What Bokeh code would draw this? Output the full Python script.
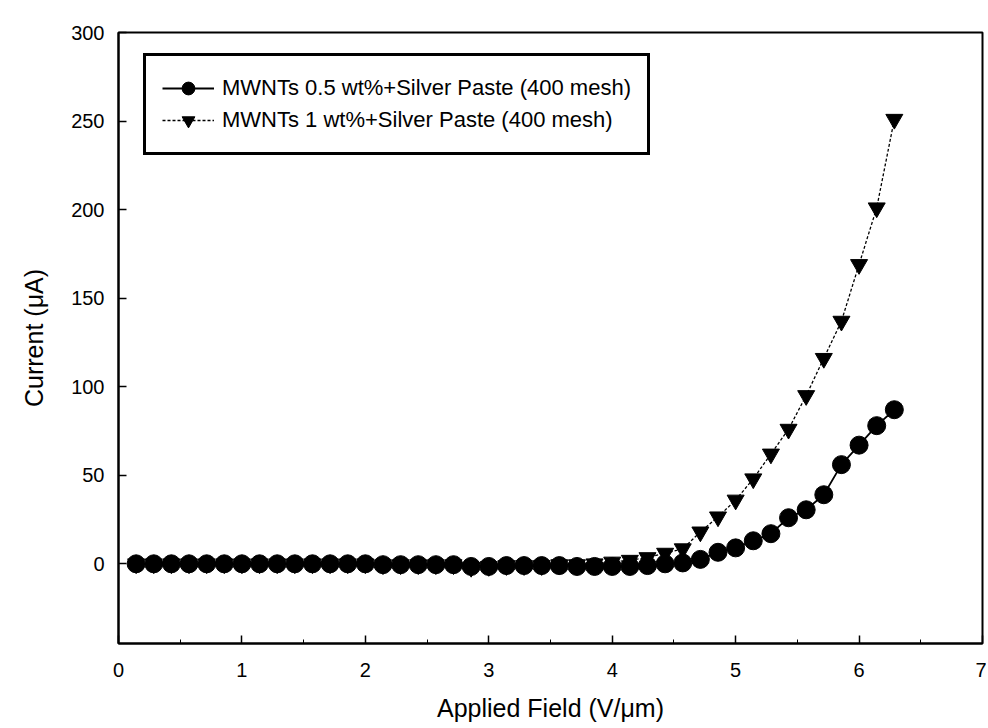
from bokeh.plotting import figure
from bokeh.models import FixedTicker, Legend, LegendItem, Range1d
from bokeh.embed import file_html
from bokeh.resources import INLINE

# Applied field steps (V/um): k/7 for k = 1..44
step_index = list(range(1, 45))
field = [k / 7 for k in step_index]

current_05 = [0, 0, 0, 0, 0, 0, 0, 0, 0, 0,
              0, 0, 0, 0, -0.5, -0.5, -0.5, -0.5, -0.5, -1.5,
              -1.5, -1, -1, -1, -1, -1.5, -1.5, -1.5, -1.5, -1,
              0, 0.5, 2.5, 6.5, 9, 13, 17, 26, 30.5, 39,
              56, 67, 78, 87]

current_1 = [0, 0, 0, 0, 0, 0, 0, 0, 0, 0,
             0, 0, 0, 0, -0.5, -0.5, -0.5, -0.5, -0.5, -2,
             -1.5, -1, -1, -1, -0.5, -0.5, 0, 1, 2, 3.5,
             6, 8.5, 18, 26.5, 36, 48, 62, 76, 95, 116,
             137, 169, 201, 251]

label_05 = "MWNTs 0.5 wt%+Silver Paste (400 mesh)"
label_1 = "MWNTs 1 wt%+Silver Paste (400 mesh)"

x_ticks = [0, 1, 2, 3, 4, 5, 6, 7]
y_ticks = [0, 50, 100, 150, 200, 250, 300]

FONT = "Liberation Sans"

p = figure(frame_width=864, frame_height=611, output_backend="svg", toolbar_location=None,
           x_range=Range1d(0, 7), y_range=Range1d(-45, 300),
           min_border_left=118, min_border_right=4, min_border_top=32, min_border_bottom=84,
           background_fill_color="white", border_fill_color="white")
p.grid.visible = False
p.outline_line_color = "black"
p.outline_line_width = 2
p.outline_line_alpha = 1

for ax in (p.xaxis[0], p.yaxis[0]):
    ax.axis_line_width = 2
    ax.major_tick_in = 8
    ax.major_tick_out = 0
    ax.minor_tick_in = 4
    ax.minor_tick_out = 0
    ax.major_tick_line_width = 1.5
    ax.major_label_text_font = FONT
    ax.major_label_text_font_size = "20px"
    ax.major_label_text_color = "black"
    ax.axis_label_text_font = FONT
    ax.axis_label_text_font_size = "25px"
    ax.axis_label_text_font_style = "normal"
    ax.axis_label_text_color = "black"

p.xaxis[0].ticker = FixedTicker(ticks=x_ticks, minor_ticks=[v + 0.5 for v in x_ticks[:-1]])
p.yaxis[0].ticker = FixedTicker(ticks=y_ticks)
p.xaxis[0].axis_label = "Applied Field (V/μm)"
p.yaxis[0].axis_label = "Current (μA)"
p.xaxis[0].major_label_standoff = 19
p.yaxis[0].major_label_standoff = 14
p.xaxis[0].axis_label_standoff = 14
p.yaxis[0].axis_label_standoff = 20

l1 = p.line(field, current_1, line_color="black", line_width=1.3, line_dash="3 2")
m1 = p.scatter(field, current_1, marker="inverted_triangle", size=17,
               fill_color="black", line_color="black")
l0 = p.line(field, current_05, line_color="black", line_width=1.8)
m0 = p.scatter(field, current_05, marker="circle", size=18,
               fill_color="black", line_color="black")

legend = Legend(items=[LegendItem(label=label_05, renderers=[l0, m0]),
                       LegendItem(label=label_1, renderers=[l1, m1])],
                location=(25, 488), margin=0, padding=16, spacing=0,
                glyph_width=52, glyph_height=32, label_height=32, label_standoff=8,
                label_text_font=FONT, label_text_font_size="22px", label_text_color="black",
                border_line_color="black", border_line_width=3, border_line_alpha=1,
                background_fill_color="white", background_fill_alpha=1)
p.add_layout(legend, "center")

open("out.html", "w").write(file_html(p, INLINE))
